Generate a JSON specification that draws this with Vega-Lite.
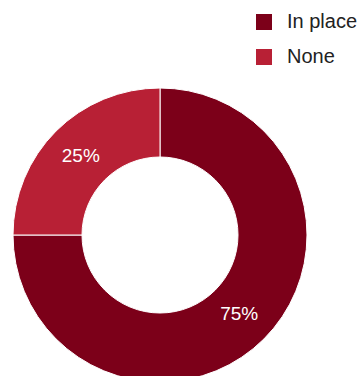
{
  "$schema": "https://vega.github.io/schema/vega-lite/v6.json",
  "width": 320,
  "height": 470,
  "autosize": "none",
  "padding": {"left": 0, "top": 0, "right": 40, "bottom": 0},
  "data": {"values": [
    {"status": "In place", "value": 75, "label": "75%", "rank": 1},
    {"status": "None", "value": 25, "label": "25%", "rank": 2}
  ]},
  "encoding": {
    "theta": {"field": "value", "type": "quantitative", "stack": true},
    "order": {"field": "rank", "type": "quantitative", "sort": "ascending"}
  },
  "layer": [
    {
      "mark": {"type": "arc", "outerRadius": 147, "innerRadius": 78, "stroke": "white", "strokeWidth": 1},
      "encoding": {
        "color": {
          "field": "status", "type": "nominal",
          "scale": {"domain": ["In place", "None"], "range": ["#7c0019", "#b82035"]},
          "legend": {
            "title": null, "orient": "none", "legendX": 254, "legendY": 12,
            "symbolType": "square", "symbolSize": 256, "symbolStrokeWidth": 0,
            "labelFontSize": 20, "labelFont": "Liberation Sans", "labelColor": "#222222",
            "labelOffset": 13, "rowPadding": 15, "labelLimit": 200
          }
        }
      }
    },
    {
      "mark": {"type": "text", "radius": 112, "fontSize": 19, "font": "Liberation Sans", "fill": "white"},
      "encoding": {
        "text": {"field": "label", "type": "nominal"}
      }
    }
  ],
  "config": {"view": {"stroke": null}}
}
